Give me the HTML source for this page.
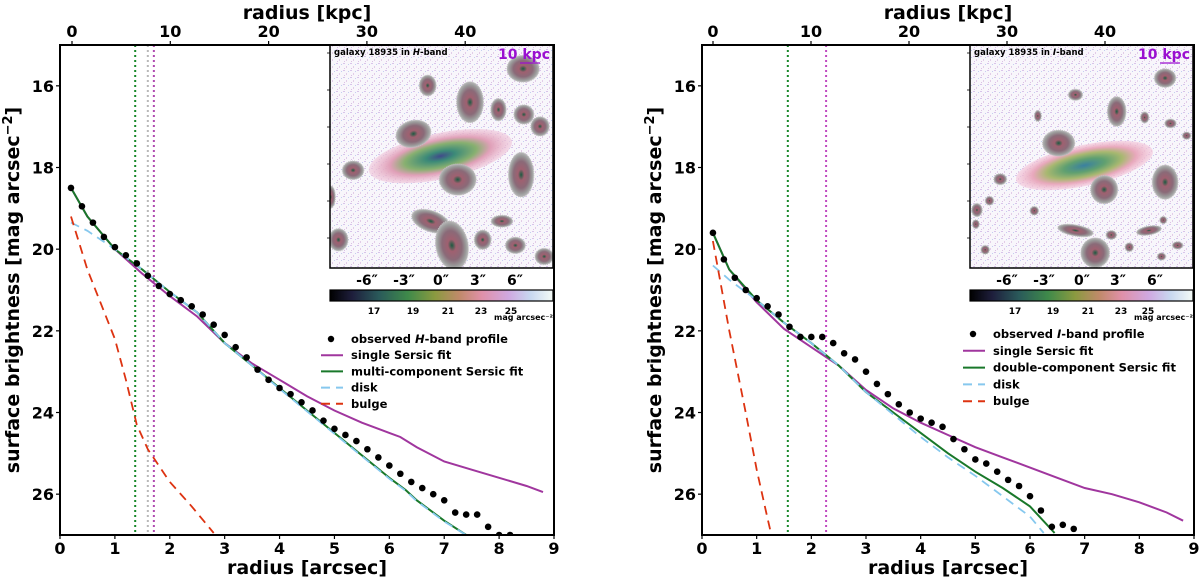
<!DOCTYPE html>
<html><head><meta charset="utf-8">
<style>
html,body{margin:0;padding:0;background:#fff;}
svg{display:block;font-family:"DejaVu Sans","Liberation Sans",sans-serif;font-weight:bold;}
</style></head>
<body>
<svg id="chart" width="1200" height="580" viewBox="0 0 1200 580" xmlns="http://www.w3.org/2000/svg">
<defs>
<linearGradient id="cmap" x1="0" x2="1" y1="0" y2="0">
<stop offset="0" stop-color="#000000"/><stop offset="0.1" stop-color="#1e1e3c"/><stop offset="0.22" stop-color="#2a5a5a"/>
<stop offset="0.35" stop-color="#3f8a4a"/><stop offset="0.47" stop-color="#8a9a40"/><stop offset="0.58" stop-color="#c08a6a"/>
<stop offset="0.68" stop-color="#e090a8"/><stop offset="0.8" stop-color="#d0a8e0"/><stop offset="0.9" stop-color="#c8d8f0"/>
<stop offset="1" stop-color="#f4fbf6"/></linearGradient>
<radialGradient id="galH"><stop offset="0" stop-color="#404a8a"/><stop offset="0.2" stop-color="#3c8a78"/><stop offset="0.5" stop-color="#88b070"/><stop offset="0.7" stop-color="#e0a0b8"/><stop offset="1" stop-color="#f0c8dc" stop-opacity="0.6"/></radialGradient>
<radialGradient id="galI"><stop offset="0" stop-color="#3a80a0"/><stop offset="0.3" stop-color="#60a070"/><stop offset="0.55" stop-color="#a8b870"/><stop offset="0.75" stop-color="#e8a8bc"/><stop offset="1" stop-color="#f4c8dc" stop-opacity="0.6"/></radialGradient>
<radialGradient id="src"><stop offset="0" stop-color="#1a5a40"/><stop offset="0.25" stop-color="#a06070"/><stop offset="0.6" stop-color="#8a6a78"/><stop offset="0.85" stop-color="#9a9a9a"/><stop offset="1" stop-color="#b8b8b8"/></radialGradient>
<pattern id="noise" width="7" height="7" patternUnits="userSpaceOnUse"><rect width="7" height="7" fill="#f8f6fb"/><rect x="0" y="0" width="2" height="1" fill="#d8c4ea"/><rect x="3" y="3" width="1" height="2" fill="#e2cce8"/><rect x="5" y="1" width="1" height="1" fill="#c4cef0"/><rect x="1" y="5" width="1" height="1" fill="#dcc0e4"/></pattern>
</defs>
</svg>
<script>
// ---------- Left panel (H-band) data ----------
const hObsX=[0.2,0.4,0.6,0.8,1.0,1.2,1.4,1.6,1.8,2.0,2.2,2.4,2.6,2.8,3.0,3.2,3.4,3.6,3.8,4.0,4.2,4.4,4.6,4.8,5.0,5.2,5.4,5.6,5.8,6.0,6.2,6.4,6.6,6.8,7.0,7.2,7.4,7.6,7.8,8.0,8.2];
const hObsY=[18.5,18.95,19.35,19.7,19.95,20.15,20.35,20.65,20.9,21.1,21.25,21.4,21.6,21.85,22.1,22.4,22.65,22.95,23.2,23.4,23.55,23.75,23.95,24.2,24.4,24.55,24.7,24.9,25.1,25.3,25.5,25.7,25.85,26.0,26.15,26.45,26.5,26.5,26.8,27.0,27.0];
const hSingleX=[0.2,0.5,1,1.5,2,2.5,3,3.5,4,4.5,5,5.5,6,6.2,6.5,7,7.5,8,8.5,8.8];
const hSingleY=[18.5,19.2,20.0,20.6,21.15,21.65,22.3,22.8,23.2,23.6,23.95,24.25,24.5,24.6,24.85,25.2,25.4,25.6,25.8,25.95];
const hMultiX=[0.2,0.5,1,1.5,2,2.5,3,3.5,4,4.5,5,5.5,6,6.3,6.5,7,7.4];
const hMultiY=[18.5,19.2,20.0,20.5,21.05,21.55,22.3,22.85,23.4,23.95,24.5,25.05,25.6,25.9,26.15,26.65,27.0];
const hDiskX=[0.2,0.5,1,1.5,2,2.5,3,3.5,4,4.5,5,5.5,6,6.3,6.5,7,7.4];
const hDiskY=[19.35,19.55,20.0,20.5,21.05,21.55,22.3,22.85,23.42,23.97,24.52,25.07,25.62,25.92,26.17,26.67,27.0];
const hBulgeX=[0.2,0.5,1,1.2,1.4,1.6,1.8,2.0,2.4,2.8];
const hBulgeY=[19.2,20.5,22.2,23.2,24.3,24.9,25.3,25.7,26.3,26.95];
// ---------- Right panel (I-band) data ----------
const iObsX=[0.2,0.4,0.6,0.8,1.0,1.2,1.4,1.6,1.8,2.0,2.2,2.4,2.6,2.8,3.0,3.2,3.4,3.6,3.8,4.0,4.2,4.4,4.6,4.8,5.0,5.2,5.4,5.6,5.8,6.0,6.2,6.4,6.6,6.8];
const iObsY=[19.6,20.25,20.7,21.0,21.2,21.4,21.6,21.9,22.15,22.15,22.15,22.3,22.55,22.7,23.0,23.3,23.55,23.8,24.0,24.15,24.25,24.35,24.65,24.9,25.15,25.25,25.45,25.65,25.8,26.05,26.4,26.8,26.75,26.85];
const iSingleX=[0.2,0.5,1,1.5,2,2.5,3,3.5,4,4.5,5,5.5,6,6.5,7,7.5,8,8.5,8.8];
const iSingleY=[19.6,20.5,21.3,21.95,22.4,22.85,23.45,23.9,24.25,24.55,24.85,25.1,25.35,25.6,25.85,26.0,26.2,26.45,26.65];
const iDoubleX=[0.2,0.5,1,1.5,2,2.5,3,3.5,4,4.5,5,5.5,6,6.45];
const iDoubleY=[19.6,20.5,21.25,21.8,22.3,22.85,23.5,24.0,24.5,25.0,25.45,25.85,26.3,26.95];
const iDiskX=[0.2,0.5,1,1.5,2,2.5,3,3.5,4,4.5,5,5.5,6,6.25];
const iDiskY=[20.4,20.75,21.25,21.8,22.3,22.85,23.5,24.05,24.6,25.1,25.55,26.05,26.55,26.95];
const iBulgeX=[0.2,0.5,0.8,1.0,1.2,1.27];
const iBulgeY=[19.8,22.0,24.0,25.4,26.6,27.0];
// ---------- Ticks ----------
const xTicks=[0,1,2,3,4,5,6,7,8,9];
const yTicks=[16,18,20,22,24,26];
const kpcTicks=[0,10,20,30,40];
const insetTicks=["-6″","-3″","0″","3″","6″"];
const cbarTicks=["17","19","21","23","25"];

const NS="http://www.w3.org/2000/svg";
const svg=document.getElementById('chart');
function mk(tag,attrs,parent,text){const e=document.createElementNS(NS,tag);for(const k in attrs)e.setAttribute(k,attrs[k]);if(text!==undefined)e.textContent=text;(parent||svg).appendChild(e);return e;}

function panel(cfg){
  const L=cfg.left,R=cfg.right,T=45,B=535;
  const xs=v=>L+(v/9)*(R-L);
  const ys=v=>T+(v-15)/12*(B-T);
  const ks=v=>cfg.k0+v*cfg.kpx;
  const g=mk('g',{});
  
  
  const clipId=cfg.name+'-clip';
  const cp=mk('clipPath',{id:clipId},g);mk('rect',{x:L,y:T,width:R-L,height:B-T},cp);
  const plot=mk('g',{'clip-path':'url(#'+clipId+')'},g);
  cfg.vlines.forEach(v=>{const l=mk('line',{x1:xs(v.x),x2:xs(v.x),y1:T,y2:B,stroke:v.c,'stroke-width':2,'stroke-dasharray':'2,3'},plot);
    
    });
  function line(X,Y,color,dash,nm,w){
    const d=X.map((x,i)=>(i?'L':'M')+xs(x).toFixed(1)+','+ys(Y[i]).toFixed(1)).join('');
    const p=mk('path',{d:d,fill:'none',stroke:color,'stroke-width':w||2,'stroke-dasharray':dash||'none'},plot);
    
    
  }
  line(cfg.single[0],cfg.single[1],'#a0369e',null,'single-sersic-line');
  line(cfg.multi[0],cfg.multi[1],'#19782a',null,'multi-sersic-line');
  line(cfg.disk[0],cfg.disk[1],'#86c8ee','9,6','disk-line',1.8);
  line(cfg.bulge[0],cfg.bulge[1],'#dd3311','9,6','bulge-line',1.8);
  cfg.obs[0].forEach((x,i)=>{const c=mk('circle',{cx:xs(x),cy:ys(cfg.obs[1][i]),r:3.3,fill:'#000'},plot);
    
    });
  const ix=cfg.inset.x,iw=223,iy=45,ih=223;
  const ins=mk('g',{},g);
  
  
  const icp=mk('clipPath',{id:clipId+'i'},ins);mk('rect',{x:ix,y:iy,width:iw,height:ih},icp);
  const ig=mk('g',{'clip-path':'url(#'+clipId+'i)'},ins);
  mk('rect',{x:ix,y:iy,width:iw,height:ih,fill:'url(#noise)'},ig);
  const gx=cfg.inset.gal;
  mk('ellipse',{cx:gx[0],cy:gx[1],rx:gx[2],ry:gx[3],fill:cfg.inset.galFill,transform:'rotate('+gx[4]+' '+gx[0]+' '+gx[1]+')'},ig);
  cfg.inset.src.forEach(s=>mk('ellipse',{cx:s[0],cy:s[1],rx:s[2],ry:s[3],fill:'url(#src)',stroke:'#c0c0c0','stroke-width':1,'stroke-dasharray':'1,1',transform:'rotate('+(s[4]||0)+' '+s[0]+' '+s[1]+')'},ig));
  mk('rect',{x:ix,y:iy,width:iw,height:ih,fill:'none',stroke:'#000','stroke-width':1.5},ins);
  const it=mk('text',{x:ix+4,y:iy+10,'font-size':8.5,fill:'#000'},ins);
  it.innerHTML='galaxy 18935 in <tspan font-style="italic">'+cfg.band+'</tspan>-band';
  mk('text',{x:ix+iw-3,y:iy+14,'font-size':14,fill:'#9a10d0','text-anchor':'end'},ins,'10 kpc');
  mk('line',{x1:ix+iw-33,x2:ix+iw-13,y1:iy+18,y2:iy+18,stroke:'#9a10d0','stroke-width':1.3},ins);
  insetTicks.forEach((t,i)=>mk('text',{x:cfg.inset.tx[i],y:285,'font-size':14,'text-anchor':'middle'},ins,t));
  [0,1,2,3,4,5].forEach(i=>mk('line',{x1:ix-3,x2:ix,y1:iy+8+i*37,y2:iy+8+i*37,stroke:'#000','stroke-width':0.8},ins));
  const cb=mk('g',{},g);
  
  
  mk('rect',{x:ix,y:290,width:iw,height:11,fill:'url(#cmap)',stroke:'#000','stroke-width':1.2},cb);
  cbarTicks.forEach((t,i)=>mk('text',{x:cfg.inset.cx[i],y:314,'font-size':9,'text-anchor':'middle'},cb,t));
  mk('text',{x:ix+iw,y:320,'font-size':8,'text-anchor':'end'},cb,'mag arcsec⁻²');
  const lg=mk('g',{},g);
  
  
  const lx=cfg.leg.x,ly=cfg.leg.y,dy=cfg.leg.dy;
  const lab=cfg.labels;
  mk('circle',{cx:lx+10,cy:ly-4,r:3.2,fill:'#000'},lg);
  const t0=mk('text',{x:lx+30,y:ly,'font-size':11.5},lg);t0.innerHTML='observed <tspan font-style="italic">'+cfg.band+'</tspan>-band profile';
  const st=[['#a0369e','none'],['#19782a','none'],['#86c8ee','9,6'],['#dd3311','9,6']];
  for(let i=1;i<5;i++){
    mk('line',{x1:lx,x2:lx+22,y1:ly+i*dy-4,y2:ly+i*dy-4,stroke:st[i-1][0],'stroke-width':2,'stroke-dasharray':st[i-1][1]},lg);
    mk('text',{x:lx+30,y:ly+i*dy,'font-size':11.5},lg,lab[i-1]);
  }
  mk('rect',{x:L,y:T,width:R-L,height:B-T,fill:'none',stroke:'#000','stroke-width':2},g);
  xTicks.forEach(v=>{mk('line',{x1:xs(v),x2:xs(v),y1:B,y2:B+4,stroke:'#000','stroke-width':1.2},g);
    mk('text',{x:xs(v),y:B+19,'font-size':16,'text-anchor':'middle'},g,String(v));});
  yTicks.forEach(v=>{mk('line',{x1:L-4,x2:L,y1:ys(v),y2:ys(v),stroke:'#000','stroke-width':1.2},g);
    mk('text',{x:L-6,y:ys(v)+6,'font-size':16,'text-anchor':'end'},g,String(v));});
  kpcTicks.forEach(v=>{mk('line',{x1:ks(v),x2:ks(v),y1:T-4,y2:T,stroke:'#000','stroke-width':1.2},g);
    mk('text',{x:ks(v),y:T-8,'font-size':16,'text-anchor':'middle'},g,String(v));});
  const xl=mk('text',{x:(L+R)/2,y:574,'font-size':19,'text-anchor':'middle'},g,'radius [arcsec]');
  
  const tl=mk('text',{x:(L+R)/2,y:19,'font-size':19,'text-anchor':'middle'},g,'radius [kpc]');
  
  const yl=mk('text',{x:0,y:0,'font-size':19,'text-anchor':'middle',transform:'translate('+(L-41)+',290) rotate(-90)'},g);
  yl.innerHTML='surface brightness [mag arcsec<tspan dy="-7" font-size="13">−2</tspan><tspan dy="7">]</tspan>';
  
}

function srcL(arr){return arr.map(a=>[a[0]/2.6,a[1]/2.69,a[2]/2.6,a[3]/2.69,a[4]||0]);}
function srcR(arr){return arr.map(a=>[a[0]/2.79+640,a[1]/2.69,a[2]/2.79,a[3]/2.69,a[4]||0]);}

panel({name:'h-band-panel',left:60,right:554,k0:72,kpx:9.83,band:'H',
  vlines:[{x:1.37,c:'#19882a'},{x:1.6,c:'#b8b8b8'},{x:1.71,c:'#b04ab0'}],
  obs:[hObsX,hObsY],single:[hSingleX,hSingleY],multi:[hMultiX,hMultiY],disk:[hDiskX,hDiskY],bulge:[hBulgeX,hBulgeY],
  labels:['single Sersic fit','multi-component Sersic fit','disk','bulge'],
  leg:{x:321,y:343,dy:16.2},
  inset:{x:330,galFill:'url(#galH)',gal:[1145/2.6,420/2.69,190/2.6,62/2.69,-12],
    src:srcL([[1112,230,22,28],[1222,275,35,55],[1296,295,20,30],[1362,308,26,26],[1404,340,24,26],[1075,360,46,36,-15],[1190,483,48,42],[1355,470,33,60],[918,458,28,25],[1120,595,52,28,20],[1175,660,42,66,-10],[1305,595,28,16],[1255,645,22,26],[1340,660,26,22],[880,645,25,30],[1415,690,24,22],[1360,185,42,36],[860,530,12,30]]),
    tx:[367,404,441,478,515],cx:[374,413,448,481,511]}
});
panel({name:'i-band-panel',left:702,right:1194,k0:713,kpx:9.8,band:'I',
  vlines:[{x:1.57,c:'#19882a'},{x:2.27,c:'#c04ac0'}],
  obs:[iObsX,iObsY],single:[iSingleX,iSingleY],multi:[iDoubleX,iDoubleY],disk:[iDiskX,iDiskY],bulge:[iBulgeX,iBulgeY],
  labels:['single Sersic fit','double-component Sersic fit','disk','bulge'],
  leg:{x:963,y:338,dy:16.8},
  inset:{x:970,galFill:'url(#galI)',gal:[1240/2.79+640,445/2.69,195/2.79,55/2.69,-12],
    src:srcR([[1215,255,20,15],[1330,300,26,40],[1110,312,10,15],[1408,316,12,15],[1480,332,16,12],[1168,385,45,35],[1295,510,38,38],[1465,490,36,46],[1005,482,18,15],[975,540,12,12],[940,565,15,18],[937,603,10,12],[1100,567,12,12],[1215,620,50,15,10],[1315,632,15,12],[1270,680,40,40],[1420,620,35,12,-10],[1460,592,10,10],[1365,665,12,12],[1500,660,15,10],[963,672,12,12],[1455,690,12,10],[1525,365,12,10],[1465,210,30,25]]),
    tx:[1007,1044,1082,1118,1155],cx:[1015,1053,1088,1121,1148]}
});
</script>
</body></html>
